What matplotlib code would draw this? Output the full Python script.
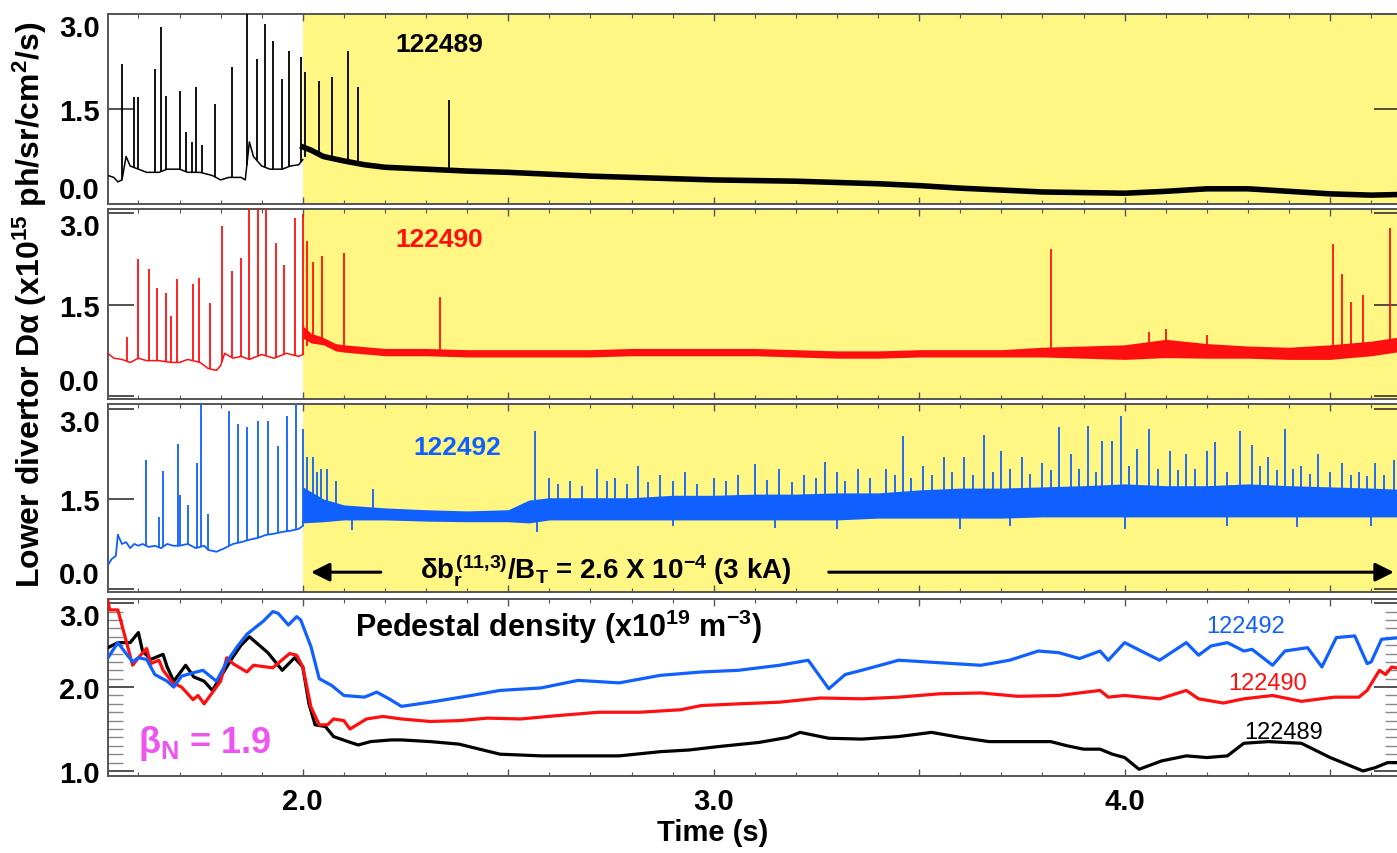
import numpy as np
import matplotlib
matplotlib.use("Agg")
import matplotlib.pyplot as plt
from matplotlib.ticker import MultipleLocator, FuncFormatter

plt.rcParams['font.family'] = ['Liberation Sans', 'DejaVu Sans']
plt.rcParams['font.weight'] = 'bold'
plt.rcParams['axes.labelweight'] = 'bold'
plt.rcParams['mathtext.fontset'] = 'custom'
plt.rcParams['mathtext.rm'] = 'Liberation Sans:bold'
plt.rcParams['mathtext.it'] = 'Liberation Sans:bold'
plt.rcParams['mathtext.bf'] = 'Liberation Sans:bold'
plt.rcParams['mathtext.sf'] = 'Liberation Sans:bold'

# ---------------- data ----------------
shots = ["122489", "122490", "122492"]
colors = ["#000000", "#FF1010", "#1060FF"]
yellow = "#FFF684"
magenta = "#EE55EE"
t_rmp = 2.0

# Panel 1 : shot 122489 D-alpha
p1_pre_t = [1.526, 1.54, 1.55, 1.56, 1.57, 1.58, 1.60, 1.62, 1.65, 1.67, 1.70, 1.72, 1.75, 1.78,
            1.80, 1.82, 1.85, 1.86, 1.87, 1.88, 1.90, 1.92, 1.95, 1.97, 1.99, 2.0]
p1_pre_v = [0.45, 0.42, 0.35, 0.38, 0.75, 0.60, 0.55, 0.50, 0.50, 0.55, 0.55, 0.50, 0.50, 0.45,
            0.38, 0.42, 0.42, 0.38, 0.98, 0.75, 0.60, 0.55, 0.55, 0.60, 0.62, 0.70]
p1_post_t = [2.0, 2.02, 2.05, 2.1, 2.15, 2.2, 2.3, 2.4, 2.5, 2.6, 2.7, 2.8, 2.9, 3.0, 3.1, 3.2,
             3.3, 3.4, 3.5, 3.6, 3.7, 3.8, 3.9, 4.0, 4.1, 4.2, 4.3, 4.4, 4.5, 4.6, 4.67]
p1_post_v = [0.90, 0.85, 0.75, 0.68, 0.62, 0.58, 0.55, 0.52, 0.50, 0.47, 0.44, 0.42, 0.40, 0.38,
             0.37, 0.36, 0.34, 0.32, 0.29, 0.25, 0.22, 0.19, 0.18, 0.17, 0.20, 0.24, 0.24, 0.20,
             0.16, 0.14, 0.15]
p1_spike_t = [1.56, 1.589, 1.60, 1.64, 1.654, 1.668, 1.70, 1.717, 1.73, 1.74, 1.754, 1.786, 1.827,
              1.864, 1.888, 1.907, 1.927, 1.95, 1.966, 1.995,
              2.005, 2.04, 2.07, 2.11, 2.135, 2.355]
p1_spike_v = [2.21, 1.69, 1.69, 2.13, 2.79, 1.71, 1.79, 1.13, 0.98, 1.85, 0.93, 1.58, 2.16,
              3.0, 2.29, 2.84, 2.58, 1.97, 2.42, 2.32,
              2.08, 1.95, 2.0, 2.42, 1.85, 1.65]

# Panel 2 : shot 122490 D-alpha
p2_pre_t = [1.526, 1.54, 1.56, 1.58, 1.60, 1.62, 1.65, 1.68, 1.70, 1.72, 1.75, 1.77, 1.79, 1.80,
            1.81, 1.83, 1.85, 1.87, 1.90, 1.93, 1.96, 1.99, 2.0]
p2_pre_v = [0.70, 0.62, 0.60, 0.55, 0.62, 0.58, 0.58, 0.55, 0.55, 0.60, 0.55, 0.45, 0.42, 0.50,
            0.70, 0.62, 0.65, 0.60, 0.68, 0.62, 0.70, 0.65, 0.68]
p2_post_t = [2.0, 2.02, 2.05, 2.08, 2.1, 2.15, 2.2, 2.3, 2.4, 2.5, 2.6, 2.7, 2.8, 2.9, 3.0, 3.1,
             3.2, 3.3, 3.4, 3.5, 3.6, 3.7, 3.8, 3.9, 4.0, 4.1, 4.2, 4.3, 4.4, 4.5, 4.6, 4.67]
p2_post_v = [1.05, 0.95, 0.90, 0.80, 0.78, 0.75, 0.72, 0.72, 0.70, 0.70, 0.70, 0.70, 0.72, 0.72,
             0.72, 0.72, 0.70, 0.68, 0.68, 0.70, 0.70, 0.70, 0.72, 0.72, 0.72, 0.78, 0.74, 0.72,
             0.70, 0.72, 0.78, 0.85]
p2_post_w = [0.10, 0.08, 0.06, 0.06, 0.06, 0.06, 0.06, 0.06, 0.06, 0.06, 0.06, 0.06, 0.06, 0.06,
             0.06, 0.06, 0.06, 0.06, 0.06, 0.06, 0.06, 0.06, 0.08, 0.10, 0.12, 0.15, 0.12, 0.10,
             0.10, 0.12, 0.12, 0.12]
p2_spike_t = [1.572, 1.598, 1.625, 1.645, 1.667, 1.68, 1.693, 1.733, 1.747, 1.774, 1.803, 1.827,
              1.849, 1.869, 1.89, 1.91, 1.934, 1.954, 1.98, 2.0,
              2.01, 2.025, 2.046, 2.10, 2.333, 3.82, 4.06, 4.10, 4.20, 4.506, 4.53, 4.55, 4.58, 4.645]
p2_spike_v = [0.97, 2.25, 2.08, 1.77, 1.69, 1.31, 1.92, 1.84, 1.93, 1.52, 2.79, 2.05,
              2.26, 3.1, 3.1, 3.1, 2.51, 2.15, 2.92, 2.98,
              2.55, 2.2, 2.3, 2.35, 1.62, 2.42, 1.05, 1.10, 1.0, 2.5, 2.0, 1.55, 1.65, 2.75]

# Panel 3 : shot 122492 D-alpha
p3_pre_t = [1.526, 1.535, 1.545, 1.55, 1.56, 1.57, 1.58, 1.59, 1.60, 1.61, 1.625, 1.64, 1.655,
            1.67, 1.685, 1.70, 1.72, 1.74, 1.76, 1.77, 1.79, 1.81, 1.83, 1.85, 1.87, 1.89, 1.91,
            1.93, 1.95, 1.97, 1.99, 2.0]
p3_pre_v = [0.40, 0.50, 0.55, 0.90, 0.75, 0.78, 0.68, 0.75, 0.72, 0.75, 0.70, 0.72, 0.68,
            0.75, 0.72, 0.72, 0.75, 0.68, 0.72, 0.65, 0.62, 0.68, 0.75, 0.78, 0.82, 0.85, 0.90,
            0.92, 0.95, 0.97, 1.00, 1.05]
p3_band_t = [2.0, 2.05, 2.1, 2.2, 2.3, 2.4, 2.5, 2.55, 2.6, 2.7, 2.8, 2.9, 3.0, 3.1, 3.2, 3.3,
             3.4, 3.5, 3.6, 3.7, 3.8, 3.9, 4.0, 4.1, 4.2, 4.3, 4.4, 4.5, 4.6, 4.67]
p3_band_lo = [1.10, 1.12, 1.15, 1.15, 1.13, 1.12, 1.12, 1.10, 1.15, 1.15, 1.15, 1.15, 1.15, 1.15,
              1.15, 1.15, 1.18, 1.18, 1.18, 1.18, 1.20, 1.20, 1.20, 1.20, 1.20, 1.20, 1.20, 1.20,
              1.20, 1.20]
p3_band_hi = [1.70, 1.50, 1.40, 1.35, 1.32, 1.30, 1.32, 1.48, 1.52, 1.52, 1.52, 1.56, 1.56, 1.58,
              1.58, 1.60, 1.60, 1.65, 1.68, 1.68, 1.70, 1.72, 1.75, 1.72, 1.72, 1.75, 1.72, 1.70,
              1.68, 1.66]
p3_spike_t = [1.55, 1.618, 1.65, 1.66, 1.696, 1.70, 1.72, 1.742, 1.752, 1.77, 1.82, 1.842, 1.864,
              1.89, 1.915, 1.94, 1.961, 1.983, 2.0,
              2.01, 2.025, 2.035, 2.045, 2.06, 2.08, 2.17, 2.565, 2.60, 2.65, 2.715, 2.76, 2.815,
              2.87, 2.93, 3.0, 3.06, 3.10, 3.16, 3.22, 3.27, 3.30, 3.35, 3.42, 3.46, 3.51, 3.56,
              3.61, 3.657, 3.70, 3.75, 3.80, 3.84, 3.87, 3.91, 3.946, 3.97, 3.99, 4.03, 4.06,
              4.11, 4.15, 4.20, 4.22, 4.28, 4.31, 4.35, 4.39, 4.43, 4.47, 4.53, 4.57, 4.61, 4.655,
              2.62, 2.68, 2.74, 2.79, 2.84, 2.90, 2.96, 3.03, 3.13, 3.19, 3.25, 3.32, 3.38, 3.44,
              3.48, 3.53, 3.58, 3.63, 3.68, 3.72, 3.77, 3.82, 3.89, 3.93, 4.01, 4.08, 4.13,
              4.17, 4.25, 4.33, 4.37, 4.41, 4.45, 4.50, 4.55, 4.59, 4.63]
p3_spike_v = [0.92, 2.14, 1.2, 1.97, 2.42, 1.57, 1.4, 2.1, 3.1, 1.25, 2.97, 2.75, 2.7,
              2.8, 2.8, 2.38, 2.88, 3.1, 2.67,
              2.2, 2.2, 1.95, 2.0, 2.0, 1.8, 1.67, 2.63, 1.85, 1.8, 2.0, 1.85, 2.05,
              1.9, 1.95, 1.85, 1.9, 2.08, 2.0, 1.9, 2.12, 1.95, 2.0, 2.0, 2.55, 2.05, 2.2,
              2.2, 2.57, 2.3, 2.2, 2.1, 2.7, 2.25, 2.72, 2.47, 2.47, 2.88, 2.33, 2.67,
              2.3, 2.25, 2.3, 2.45, 2.63, 2.4, 2.2, 2.67, 2.05, 2.25, 2.1, 1.95, 2.1, 2.15,
              1.75, 1.72, 1.8, 1.75, 1.78, 1.8, 1.75, 1.8, 1.82, 1.78, 1.85, 1.8, 1.85, 1.9,
              1.85, 1.9, 1.95, 1.9, 1.95, 2.0, 1.92, 1.98, 2.0, 1.95, 2.05, 2.0, 1.98,
              2.0, 1.95, 2.05, 1.98, 2.0, 1.92, 1.95, 1.9, 1.88, 1.9]
p3_dip_t = [2.12, 2.57, 2.9, 3.15, 3.3, 3.6, 3.72, 4.0, 4.25, 4.42, 4.6]
p3_dip_v = [0.98, 0.95, 1.05, 1.02, 1.0, 1.0, 1.05, 1.0, 1.05, 1.03, 1.05]

# Panel 4 : pedestal density
n_489_t = [1.526, 1.55, 1.58, 1.60, 1.61, 1.63, 1.66, 1.67, 1.686, 1.715, 1.735, 1.76, 1.78, 1.80,
           1.826, 1.85, 1.87, 1.915, 1.95, 1.98, 2.0, 2.015, 2.03, 2.055, 2.075, 2.11, 2.135,
           2.165, 2.215, 2.24, 2.31, 2.38, 2.43, 2.48, 2.58, 2.67, 2.77, 2.87, 2.94, 3.01, 3.11,
           3.18, 3.21, 3.28, 3.36, 3.45, 3.53, 3.60, 3.67, 3.74, 3.82, 3.86, 3.90, 3.94, 3.97,
           4.0, 4.035, 4.09, 4.15, 4.20, 4.25, 4.29, 4.35, 4.43, 4.50, 4.58, 4.61, 4.64, 4.67]
n_489_v = [2.47, 2.53, 2.53, 2.65, 2.43, 2.33, 2.39, 2.24, 2.07, 2.26, 2.12, 2.07, 1.96, 2.12,
           2.33, 2.50, 2.60, 2.41, 2.20, 2.35, 2.24, 1.80, 1.55, 1.53, 1.41, 1.35, 1.31,
           1.35, 1.37, 1.37, 1.35, 1.32, 1.26, 1.20, 1.18, 1.18, 1.18, 1.23, 1.25, 1.29, 1.34,
           1.40, 1.46, 1.39, 1.38, 1.41, 1.46, 1.40, 1.35, 1.35, 1.35, 1.30, 1.26, 1.26, 1.20,
           1.16, 1.02, 1.12, 1.18, 1.16, 1.18, 1.33, 1.35, 1.33, 1.16, 1.00, 1.04, 1.10, 1.10]
n_490_t = [1.526, 1.53, 1.55, 1.586, 1.60, 1.62, 1.63, 1.65, 1.66, 1.684, 1.705, 1.733, 1.745,
           1.76, 1.80, 1.815, 1.83, 1.864, 1.88, 1.927, 1.968, 1.985, 2.0, 2.02, 2.04, 2.06,
           2.075, 2.10, 2.115, 2.155, 2.195, 2.24, 2.31, 2.38, 2.45, 2.53, 2.62, 2.72, 2.82,
           2.92, 2.97, 3.06, 3.16, 3.26, 3.36, 3.45, 3.55, 3.65, 3.74, 3.84, 3.94, 3.96, 4.0,
           4.04, 4.085, 4.15, 4.18, 4.24, 4.29, 4.36, 4.43, 4.51, 4.57, 4.59, 4.62, 4.635,
           4.65, 4.67]
n_490_v = [3.02, 2.92, 2.92, 2.26, 2.35, 2.46, 2.28, 2.32, 2.20, 2.05, 2.00, 1.85, 1.90,
           1.80, 2.07, 2.35, 2.28, 2.18, 2.26, 2.23, 2.40, 2.38, 2.24, 1.76, 1.55, 1.55,
           1.62, 1.60, 1.50, 1.62, 1.65, 1.62, 1.59, 1.60, 1.63, 1.62, 1.66, 1.70, 1.70,
           1.73, 1.78, 1.80, 1.82, 1.87, 1.86, 1.88, 1.92, 1.93, 1.89, 1.90, 1.96, 1.88, 1.90,
           1.88, 1.86, 1.96, 1.86, 1.81, 1.86, 1.90, 1.83, 1.88, 1.88, 1.96, 2.20, 2.15,
           2.24, 2.22]
n_492_t = [1.526, 1.55, 1.57, 1.586, 1.60, 1.62, 1.64, 1.67, 1.686, 1.705, 1.733, 1.757, 1.79,
           1.815, 1.84, 1.864, 1.905, 1.927, 1.94, 1.965, 1.985, 1.995, 2.02, 2.04, 2.07, 2.10,
           2.15, 2.18, 2.21, 2.24, 2.31, 2.41, 2.48, 2.58, 2.67, 2.77, 2.87, 2.97, 3.06, 3.16,
           3.23, 3.28, 3.32, 3.36, 3.45, 3.55, 3.65, 3.72, 3.79, 3.84, 3.89, 3.94, 3.96, 4.0,
           4.04, 4.085, 4.15, 4.18, 4.21, 4.25, 4.29, 4.31, 4.36, 4.39, 4.445, 4.48, 4.515,
           4.56, 4.59, 4.60, 4.625, 4.67]
n_492_v = [2.35, 2.53, 2.40, 2.30, 2.35, 2.33, 2.15, 2.07, 2.00, 2.13, 2.17, 2.20, 2.07,
           2.30, 2.48, 2.63, 2.79, 2.90, 2.88, 2.74, 2.84, 2.80, 2.48, 2.10, 2.02, 1.90,
           1.88, 1.94, 1.86, 1.77, 1.82, 1.90, 1.96, 1.99, 2.08, 2.05, 2.14, 2.18, 2.20, 2.26,
           2.32, 1.98, 2.15, 2.20, 2.32, 2.29, 2.26, 2.32, 2.43, 2.41, 2.34, 2.43, 2.32, 2.53,
           2.43, 2.32, 2.53, 2.38, 2.49, 2.53, 2.43, 2.45, 2.26, 2.43, 2.47, 2.24, 2.59,
           2.61, 2.28, 2.30, 2.57, 2.59]

x_tick_labels = {2.0: "2.0", 3.0: "3.0", 4.0: "4.0"}

# ---------------- figure ----------------
W, H = 1397, 854
fig = plt.figure(figsize=(W / 100, H / 100), dpi=100)

AX_L, AX_R = 108, 1400

def frac_axes(top, bottom, left=AX_L, right=AX_R):
    return fig.add_axes([left / W, 1 - bottom / H, (right - left) / W, (bottom - top) / H])

ax1 = frac_axes(15, 205)
ax2 = frac_axes(210, 400)
ax3 = frac_axes(405, 593)
ax4 = frac_axes(600, 777)
axes = [ax1, ax2, ax3, ax4]

XMIN, XMAX = 1.526, 4.67
spine_col = "#555555"
for ax in axes:
    ax.set_xlim(XMIN, XMAX)
    for s in ax.spines.values():
        s.set_color(spine_col)
        s.set_linewidth(1.4)
    ax.xaxis.set_major_locator(MultipleLocator(0.5))
    ax.xaxis.set_minor_locator(MultipleLocator(0.1))
    ax.tick_params(axis='x', which='major', direction='in', length=5, width=1,
                   top=True, bottom=True, color=spine_col)
    ax.tick_params(axis='x', which='minor', direction='in', length=3, width=0.8,
                   top=True, bottom=True, color=spine_col)
    ax.tick_params(axis='y', which='major', direction='in', length=19, width=1.2,
                   left=True, right=True, color='#333333', labelsize=21, pad=6)
    if ax is not ax4:
        ax.tick_params(axis='x', labelbottom=False)

for ax in (ax1, ax2, ax3):
    ax.axvspan(t_rmp, 5.0, color=yellow, zorder=0, lw=0)
    ax.set_yticks([0.0, 1.5, 3.0])
    ax.set_yticklabels(["0.0", "1.5", "3.0"])
    lab = ax.get_yticklabels()
    lab[0].set_va('bottom')
    lab[2].set_va('top')

ax1.set_ylim(0.0, 3.0)
ax2.set_ylim(-0.05, 3.07)
ax3.set_ylim(-0.05, 3.08)
ax4.set_ylim(0.94, 3.05)

# Panel 1
c = colors[0]
ax1.plot(p1_pre_t, p1_pre_v, color=c, lw=1.1, zorder=3)
ax1.plot(p1_post_t, p1_post_v, color=c, lw=4.0, zorder=3, solid_joinstyle='round')
base1 = np.interp(p1_spike_t, p1_pre_t + p1_post_t[1:], p1_pre_v + p1_post_v[1:])
ax1.vlines(p1_spike_t, base1, p1_spike_v, color=c, lw=1.3, zorder=3)

# Panel 2
c = colors[1]
ax2.plot(p2_pre_t, p2_pre_v, color=c, lw=1.1, zorder=3)
lo2 = np.array(p2_post_v) - np.array(p2_post_w)
hi2 = np.array(p2_post_v) + np.array(p2_post_w)
ax2.fill_between(p2_post_t, lo2, hi2, color=c, lw=0, zorder=3)
base2 = np.interp(p2_spike_t, p2_pre_t + p2_post_t[1:], p2_pre_v + p2_post_v[1:])
ax2.vlines(p2_spike_t, base2, p2_spike_v, color=c, lw=1.3, zorder=3)

# Panel 3
c = colors[2]
ax3.plot(p3_pre_t, p3_pre_v, color=c, lw=1.3, zorder=3)
ax3.fill_between(p3_band_t, p3_band_lo, p3_band_hi, color=c, lw=0, zorder=3)
mid3 = (np.array(p3_band_lo) + np.array(p3_band_hi)) / 2
base3 = np.interp(p3_spike_t, p3_pre_t + p3_band_t[1:], p3_pre_v + list(mid3[1:]))
ax3.vlines(p3_spike_t, base3, p3_spike_v, color=c, lw=1.3, zorder=3)
dbase = np.interp(p3_dip_t, p3_band_t, mid3)
ax3.vlines(p3_dip_t, p3_dip_v, dbase, color=c, lw=1.3, zorder=3)

# Shot labels
ax1.text(2.333, 2.53, shots[0], color=colors[0], fontsize=19, ha='center', va='center')
ax2.text(2.333, 2.57, shots[1], color=colors[1], fontsize=19, ha='center', va='center')
ax3.text(2.375, 2.37, shots[2], color=colors[2], fontsize=19, ha='center', va='center')

# Arrow annotation
y_arr = 0.28
ax3.annotate('', xy=(2.02, y_arr), xytext=(2.19, y_arr),
             arrowprops=dict(arrowstyle='-|>', lw=2.2, color='k', mutation_scale=28,
                             shrinkA=0, shrinkB=0), zorder=5)
ax3.annotate('', xy=(4.655, y_arr), xytext=(3.28, y_arr),
             arrowprops=dict(arrowstyle='-|>', lw=2.2, color='k', mutation_scale=28,
                             shrinkA=0, shrinkB=0), zorder=5)
ax3.text(2.737, y_arr + 0.03, r"$\delta b_r^{(11{,}3)}$/B$_T$ = 2.6 X 10$^{-4}$ (3 kA)",
         fontsize=20, ha='center', va='center', zorder=6)

# Panel 4
ax4.plot(n_489_t, n_489_v, color=colors[0], lw=2.3, zorder=3)
ax4.plot(n_490_t, n_490_v, color=colors[1], lw=2.3, zorder=3)
ax4.plot(n_492_t, n_492_v, color=colors[2], lw=2.3, zorder=3)
ax4.set_yticks([1.0, 2.0, 3.0])
ax4.set_yticklabels(["1.0", "2.0", "3.0"])
ax4.get_yticklabels()[2].set_va('top')
ax4.yaxis.set_minor_locator(MultipleLocator(0.1))
ax4.tick_params(axis='y', which='minor', direction='in', length=11, width=1.0,
                left=True, right=True, color='#888888')
ax4.xaxis.set_major_formatter(FuncFormatter(lambda v, p: x_tick_labels.get(round(v, 1), "")))
ax4.tick_params(axis='x', which='major', labelsize=21, pad=8)
ax4.set_xlabel("Time (s)", fontsize=21, fontweight='bold', labelpad=2)
ax4.xaxis.label.set_x((713 - AX_L) / (AX_R - AX_L))

ax4.text(2.127, 2.73, r"Pedestal density (x10$^{19}$ m$^{-3}$)", fontsize=22,
         ha='left', va='center')
ax4.text(4.294, 2.73, shots[2], color=colors[2], fontsize=17, fontweight='normal',
         ha='center', va='center')
ax4.text(4.348, 2.05, shots[1], color=colors[1], fontsize=17, fontweight='normal',
         ha='center', va='center')
ax4.text(4.387, 1.46, shots[0], color=colors[0], fontsize=17, fontweight='normal',
         ha='center', va='center')
ax4.text(1.60, 1.34, r"$\beta_N$ = 1.9", color=magenta, fontsize=26,
         ha='left', va='center')

fig.text(30 / W, 1 - 305 / H,
         r"Lower divertor D$\alpha$ (x10$^{15}$ ph/sr/cm$^2$/s)",
         rotation=90, fontsize=23, ha='center', va='center')

fig.savefig("out.png", dpi=100, facecolor='white')
